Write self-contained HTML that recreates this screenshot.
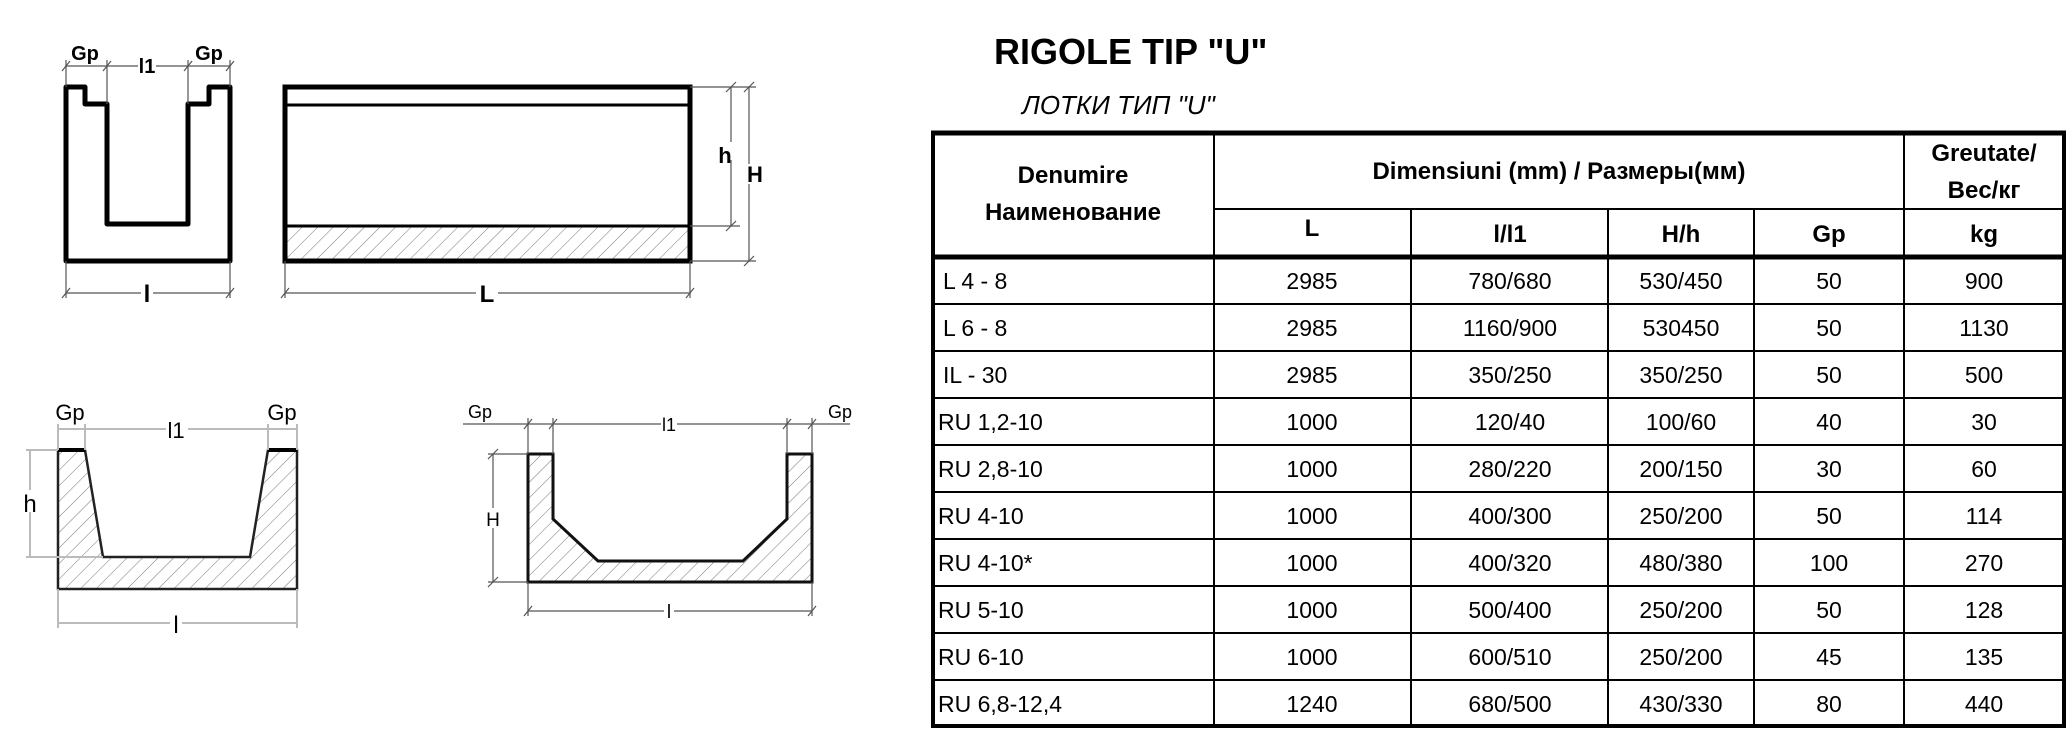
<!DOCTYPE html>
<html><head><meta charset="utf-8"><style>
html,body{margin:0;padding:0;background:#fff;}
svg{display:block;}
text{font-family:"Liberation Sans Narrow","Liberation Sans",sans-serif;fill:#000;}
.b{font-weight:bold;}
.d{font-size:23px;}
.h{font-size:24px;font-weight:bold;}
.dim{stroke:#555;stroke-width:1.2;fill:none;}
.dl{stroke:#bbb;stroke-width:2;fill:none;}
</style></head><body>
<svg width="2072" height="732" viewBox="0 0 2072 732" xmlns="http://www.w3.org/2000/svg">
<defs>
<pattern id="hat" patternUnits="userSpaceOnUse" width="11" height="11" patternTransform="rotate(45)">
<line x1="0" y1="0" x2="0" y2="11" stroke="#777" stroke-width="1"/>
</pattern>
</defs>

<!-- Drawing 1 -->
<path d="M66 87 H85 V104 H107 V224 H188 V104 H209 V87 H230 V261 H66 Z" fill="none" stroke="#000" stroke-width="5" stroke-linejoin="round"/>
<g class="dim">
<line x1="66" y1="66" x2="230" y2="66"/>
<line x1="66" y1="60" x2="66" y2="87"/><line x1="107" y1="60" x2="107" y2="104"/>
<line x1="188" y1="60" x2="188" y2="104"/><line x1="230" y1="60" x2="230" y2="87"/>
<line x1="62" y1="71" x2="70" y2="61"/><line x1="103" y1="71" x2="111" y2="61"/>
<line x1="184" y1="71" x2="192" y2="61"/><line x1="226" y1="71" x2="234" y2="61"/>
<line x1="66" y1="293" x2="230" y2="293"/>
<line x1="66" y1="261" x2="66" y2="298"/><line x1="230" y1="261" x2="230" y2="298"/>
<line x1="62" y1="298" x2="70" y2="288"/><line x1="226" y1="298" x2="234" y2="288"/>
</g>
<rect x="138" y="57" width="18" height="14" fill="#fff"/>
<text x="85" y="60" class="b" font-size="20" text-anchor="middle">Gp</text>
<text x="209" y="60" class="b" font-size="20" text-anchor="middle">Gp</text>
<text x="147" y="73" class="b" font-size="20" text-anchor="middle">l1</text>
<rect x="141" y="285" width="12" height="16" fill="#fff"/>
<text x="147" y="302" class="b" font-size="24" text-anchor="middle">l</text>

<!-- Drawing 2 -->
<rect x="285" y="226" width="405" height="35" fill="url(#hat)"/>
<rect x="285" y="87" width="405" height="174" fill="none" stroke="#000" stroke-width="5"/>
<line x1="285" y1="105" x2="690" y2="105" stroke="#000" stroke-width="3"/>
<line x1="285" y1="226" x2="690" y2="226" stroke="#000" stroke-width="3"/>
<g class="dim">
<line x1="285" y1="293" x2="690" y2="293"/>
<line x1="285" y1="261" x2="285" y2="298"/><line x1="690" y1="261" x2="690" y2="298"/>
<line x1="281" y1="298" x2="289" y2="288"/><line x1="686" y1="298" x2="694" y2="288"/>
<line x1="690" y1="87" x2="756" y2="87"/><line x1="690" y1="226" x2="740" y2="226"/>
<line x1="690" y1="261" x2="756" y2="261"/>
<line x1="731" y1="87" x2="731" y2="226"/><line x1="749" y1="87" x2="749" y2="261"/>
<line x1="726" y1="92" x2="736" y2="82"/><line x1="726" y1="231" x2="736" y2="221"/>
<line x1="744" y1="92" x2="754" y2="82"/><line x1="744" y1="266" x2="754" y2="256"/>
</g>
<rect x="476" y="282" width="22" height="20" fill="#fff"/>
<text x="487" y="302" class="b" font-size="24" text-anchor="middle">L</text>
<rect x="718" y="142" width="14" height="18" fill="#fff"/>
<text x="725" y="163" class="b" font-size="22" text-anchor="middle">h</text>
<rect x="742" y="164" width="20" height="20" fill="#fff"/>
<text x="755" y="182" class="b" font-size="22" text-anchor="middle">H</text>

<!-- Drawing 3 -->
<path d="M58 450 H85 L103 557 H250 L268 450 H297 V589 H58 Z" fill="url(#hat)" stroke="#222" stroke-width="2.5"/>
<line x1="58" y1="450" x2="85" y2="450" stroke="#000" stroke-width="4"/>
<line x1="268" y1="450" x2="297" y2="450" stroke="#000" stroke-width="4"/>
<g class="dl">
<line x1="58" y1="429" x2="297" y2="429"/>
<line x1="58" y1="424" x2="58" y2="450"/><line x1="85" y1="424" x2="85" y2="450"/>
<line x1="268" y1="424" x2="268" y2="450"/><line x1="297" y1="424" x2="297" y2="450"/>
<line x1="58" y1="589" x2="58" y2="628"/><line x1="297" y1="589" x2="297" y2="628"/>
<line x1="58" y1="623" x2="297" y2="623"/>
<line x1="26" y1="450" x2="58" y2="450"/><line x1="26" y1="557" x2="103" y2="557"/>
<line x1="30" y1="450" x2="30" y2="557"/>
</g>
<text x="70" y="420" font-size="22" text-anchor="middle">Gp</text>
<text x="282" y="420" font-size="22" text-anchor="middle">Gp</text>
<rect x="166" y="420" width="22" height="18" fill="#fff"/>
<text x="176" y="438" font-size="22" text-anchor="middle">l1</text>
<rect x="22" y="490" width="16" height="22" fill="#fff"/>
<text x="30" y="512" font-size="24" text-anchor="middle">h</text>
<rect x="170" y="614" width="12" height="20" fill="#fff"/>
<text x="176" y="633" font-size="24" text-anchor="middle">l</text>

<!-- Drawing 4 -->
<path d="M528 454 H553 V519 L598 561 H743 L787 519 V454 H812 V582 H528 Z" fill="url(#hat)" stroke="#111" stroke-width="3"/>
<g class="dim">
<line x1="463" y1="424" x2="850" y2="424"/>
<line x1="528" y1="418" x2="528" y2="454"/><line x1="553" y1="418" x2="553" y2="454"/>
<line x1="787" y1="418" x2="787" y2="454"/><line x1="812" y1="418" x2="812" y2="454"/>
<line x1="524" y1="429" x2="532" y2="419"/><line x1="549" y1="429" x2="557" y2="419"/>
<line x1="783" y1="429" x2="791" y2="419"/><line x1="808" y1="429" x2="816" y2="419"/>
<line x1="488" y1="454" x2="528" y2="454"/><line x1="488" y1="582" x2="528" y2="582"/>
<line x1="493" y1="454" x2="493" y2="582"/>
<line x1="488" y1="459" x2="498" y2="449"/><line x1="488" y1="587" x2="498" y2="577"/>
<line x1="528" y1="582" x2="528" y2="616"/><line x1="812" y1="582" x2="812" y2="616"/>
<line x1="528" y1="611" x2="812" y2="611"/>
<line x1="524" y1="616" x2="532" y2="606"/><line x1="808" y1="616" x2="816" y2="606"/>
</g>
<text x="480" y="418" font-size="18" text-anchor="middle">Gp</text>
<text x="840" y="418" font-size="18" text-anchor="middle">Gp</text>
<rect x="661" y="416" width="16" height="16" fill="#fff"/>
<text x="669" y="431" font-size="18" text-anchor="middle">l1</text>
<rect x="485" y="508" width="16" height="20" fill="#fff"/>
<text x="493" y="526" font-size="19" text-anchor="middle">H</text>
<rect x="664" y="603" width="10" height="16" fill="#fff"/>
<text x="669" y="618" font-size="19" text-anchor="middle">l</text>

<!-- Titles -->
<text x="994" y="64" font-size="36" class="b" style="font-family:'Liberation Sans',sans-serif">RIGOLE  TIP "U"</text>
<text x="1022" y="114" font-size="26" font-style="italic">ЛОТКИ ТИП "U"</text>

<!-- Table -->
<g stroke="#000" fill="none">
<rect x="933" y="133" width="1131" height="593" stroke-width="4"/>
<line x1="931" y1="133" x2="2066" y2="133" stroke-width="5"/>
<line x1="931" y1="257" x2="2066" y2="257" stroke-width="5"/>
<line x1="1214" y1="133" x2="1214" y2="726" stroke-width="2"/>
<line x1="1904" y1="133" x2="1904" y2="726" stroke-width="2"/>
<line x1="1411" y1="209" x2="1411" y2="726" stroke-width="2"/>
<line x1="1608" y1="209" x2="1608" y2="726" stroke-width="2"/>
<line x1="1754" y1="209" x2="1754" y2="726" stroke-width="2"/>
<line x1="1214" y1="209" x2="2064" y2="209" stroke-width="2"/>
<line x1="933" y1="304" x2="2064" y2="304" stroke-width="2"/>
<line x1="933" y1="351" x2="2064" y2="351" stroke-width="2"/>
<line x1="933" y1="398" x2="2064" y2="398" stroke-width="2"/>
<line x1="933" y1="445" x2="2064" y2="445" stroke-width="2"/>
<line x1="933" y1="492" x2="2064" y2="492" stroke-width="2"/>
<line x1="933" y1="539" x2="2064" y2="539" stroke-width="2"/>
<line x1="933" y1="586" x2="2064" y2="586" stroke-width="2"/>
<line x1="933" y1="633" x2="2064" y2="633" stroke-width="2"/>
<line x1="933" y1="680" x2="2064" y2="680" stroke-width="2"/>
</g>
<g class="h" text-anchor="middle">
<text x="1073" y="183">Denumire</text>
<text x="1073" y="220">Наименование</text>
<text x="1559" y="179">Dimensiuni (mm) / Размеры(мм)</text>
<text x="1984" y="161">Greutate/</text>
<text x="1984" y="198">Bec/кг</text>
<text x="1312" y="236">L</text>
<text x="1510" y="242">l/l1</text>
<text x="1681" y="242">H/h</text>
<text x="1829" y="242">Gp</text>
<text x="1984" y="242">kg</text>
</g>
<g class="d">
<text x="943" y="289">L 4 - 8</text>
<text x="943" y="336">L 6 - 8</text>
<text x="943" y="383">IL - 30</text>
<text x="938" y="430">RU 1,2-10</text>
<text x="938" y="477">RU 2,8-10</text>
<text x="938" y="524">RU 4-10</text>
<text x="938" y="571">RU 4-10*</text>
<text x="938" y="618">RU 5-10</text>
<text x="938" y="665">RU 6-10</text>
<text x="938" y="712">RU 6,8-12,4</text>
</g>
<g class="d" text-anchor="middle">
<text x="1312" y="289">2985</text><text x="1510" y="289">780/680</text><text x="1681" y="289">530/450</text><text x="1829" y="289">50</text><text x="1984" y="289">900</text>
<text x="1312" y="336">2985</text><text x="1510" y="336">1160/900</text><text x="1681" y="336">530450</text><text x="1829" y="336">50</text><text x="1984" y="336">1130</text>
<text x="1312" y="383">2985</text><text x="1510" y="383">350/250</text><text x="1681" y="383">350/250</text><text x="1829" y="383">50</text><text x="1984" y="383">500</text>
<text x="1312" y="430">1000</text><text x="1510" y="430">120/40</text><text x="1681" y="430">100/60</text><text x="1829" y="430">40</text><text x="1984" y="430">30</text>
<text x="1312" y="477">1000</text><text x="1510" y="477">280/220</text><text x="1681" y="477">200/150</text><text x="1829" y="477">30</text><text x="1984" y="477">60</text>
<text x="1312" y="524">1000</text><text x="1510" y="524">400/300</text><text x="1681" y="524">250/200</text><text x="1829" y="524">50</text><text x="1984" y="524">114</text>
<text x="1312" y="571">1000</text><text x="1510" y="571">400/320</text><text x="1681" y="571">480/380</text><text x="1829" y="571">100</text><text x="1984" y="571">270</text>
<text x="1312" y="618">1000</text><text x="1510" y="618">500/400</text><text x="1681" y="618">250/200</text><text x="1829" y="618">50</text><text x="1984" y="618">128</text>
<text x="1312" y="665">1000</text><text x="1510" y="665">600/510</text><text x="1681" y="665">250/200</text><text x="1829" y="665">45</text><text x="1984" y="665">135</text>
<text x="1312" y="712">1240</text><text x="1510" y="712">680/500</text><text x="1681" y="712">430/330</text><text x="1829" y="712">80</text><text x="1984" y="712">440</text>
</g>
</svg>
</body></html>
